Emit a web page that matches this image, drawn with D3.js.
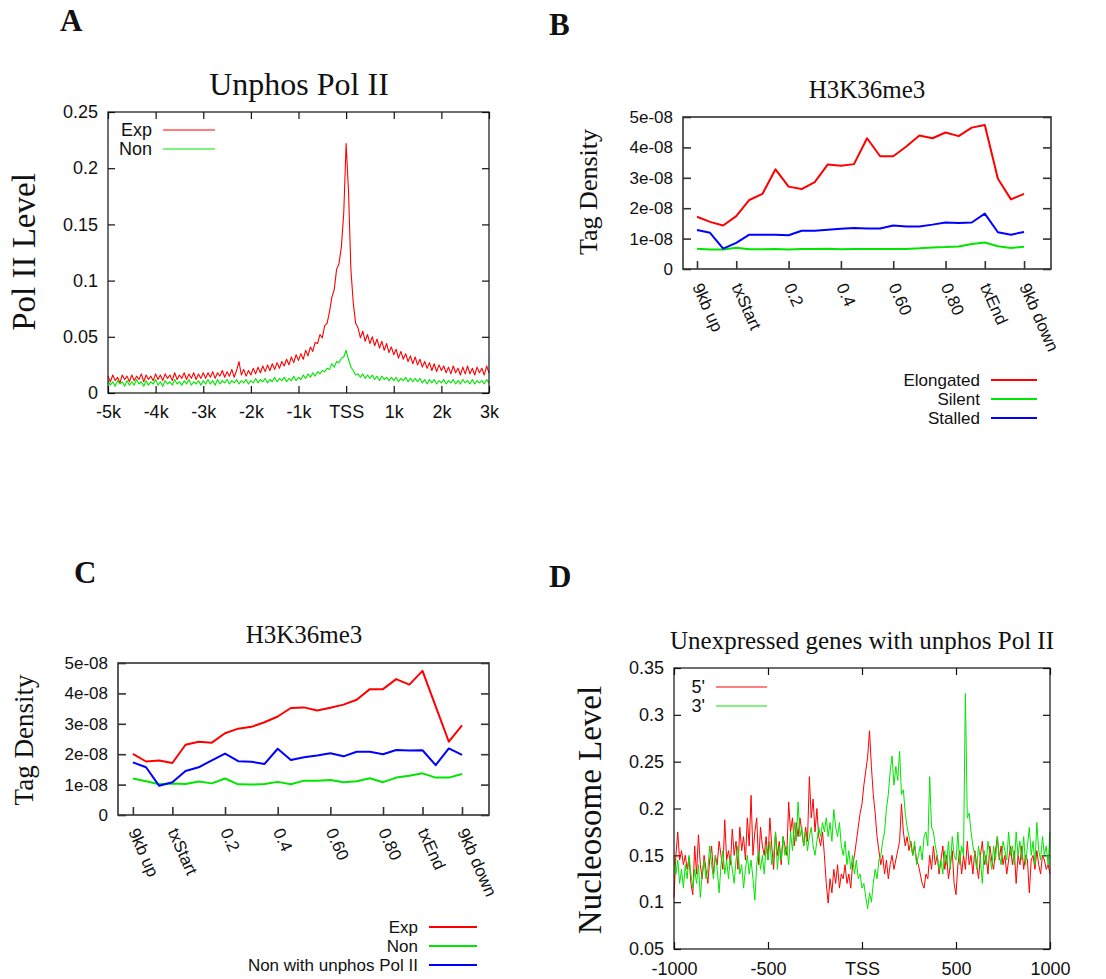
<!DOCTYPE html>
<html>
<head>
<meta charset="utf-8">
<script src="https://cdn.jsdelivr.net/npm/d3@7"></script>
<style>
  body { margin: 0; background: #fff; }
</style>
</head>
<body>
<div id="fig"></div>
<script>
// ---------- data ----------
// A: unphos Pol II level, 50bp bins from -5k to 3k
const binsA = d3.range(-5000, 3001, 50);
const expA = [
  0.015,0.010,0.016,0.011,0.014,0.009,0.016,0.012,0.015,0.010,
  0.016,0.011,0.015,0.012,0.017,0.010,0.016,0.012,0.015,0.011,
  0.017,0.012,0.016,0.011,0.017,0.013,0.016,0.011,0.018,0.012,
  0.016,0.013,0.018,0.012,0.017,0.013,0.018,0.012,0.017,0.013,
  0.018,
  0.013,0.018,0.014,0.019,0.013,0.018,0.015,0.020,0.014,0.019,
  0.015,0.021,0.014,0.020,0.028,0.016,0.021,0.015,0.020,0.016,
  0.022,0.017,0.023,0.018,0.024,0.019,0.025,0.020,0.026,0.021,
  0.027,0.022,0.028,0.024,0.030,0.025,0.032,0.027,0.034,0.029,
  0.035,0.030,0.038,0.033,0.041,0.037,0.045,0.044,
  0.052,0.049,0.060,0.062,
  0.072,0.085,0.092,0.110,
  0.115,0.130,0.160,
  0.222,
  0.180,0.110,0.080,0.062,
  0.058,0.049,0.055,0.046,0.052,0.044,
  0.050,0.042,0.048,0.040,0.046,0.038,0.044,0.036,0.041,0.034,
  0.039,0.031,0.037,0.030,0.035,0.028,0.033,0.026,0.032,0.025,
  0.030,0.023,0.028,0.022,0.027,0.020,0.026,0.019,0.025,0.020,
  0.024,0.018,0.023,0.017,0.024,0.018,0.022,0.016,0.023,0.017,
  0.024,0.017,0.022,0.016,0.023,0.018,0.022,0.016,0.024,0.018
];
const nonA = [
  0.011,0.007,0.010,0.006,0.011,0.008,0.010,0.006,0.011,0.007,
  0.010,0.007,0.012,0.008,0.010,0.006,0.011,0.007,0.010,0.008,
  0.012,0.007,0.010,0.006,0.011,0.008,0.010,0.007,0.012,0.008,
  0.010,0.007,0.011,0.008,0.012,0.007,0.010,0.008,0.011,0.007,
  0.011,
  0.008,0.012,0.008,0.011,0.007,0.012,0.008,0.011,0.009,0.012,
  0.008,0.011,0.009,0.012,0.008,0.011,0.009,0.012,0.008,0.011,
  0.009,0.013,0.009,0.012,0.010,0.013,0.009,0.012,0.010,0.014,
  0.010,0.013,0.011,0.014,0.010,0.013,0.011,0.015,0.011,0.014,
  0.012,0.016,0.013,0.017,0.014,0.018,0.015,0.019,0.017,0.020,0.019,0.022,
  0.021,0.026,0.023,0.028,0.027,0.031,0.032,
  0.038,
  0.030,0.023,0.020,0.016,0.017,0.014,0.017,0.013,0.016,0.013,
  0.016,0.012,0.015,0.011,0.015,0.012,0.014,0.011,0.014,0.011,
  0.014,0.010,0.013,0.011,0.014,0.010,0.013,0.010,0.013,0.010,
  0.013,0.009,0.012,0.008,0.012,0.009,0.012,0.008,0.011,0.009,
  0.012,0.008,0.011,0.009,0.012,0.008,0.011,0.008,0.012,0.009,
  0.011,0.008,0.012,0.008,0.011,0.009,0.011,0.008,0.012,0.009
];
const ticksA = [-5000, -4000, -3000, -2000, -1000, 0, 1000, 2000, 3000];
const tickLabelsA = ["-5k", "-4k", "-3k", "-2k", "-1k", "TSS", "1k", "2k", "3k"];
const yTicksA = [0, 0.05, 0.1, 0.15, 0.2, 0.25];
const yLabelsA = ["0", "0.05", "0.1", "0.15", "0.2", "0.25"];

// B and C: H3K36me3 tag density (units of 1e-08) over 26 metagene bins
const binsMeta = d3.range(26);
const ticksMeta = [0, 3, 7, 11, 15, 19, 22, 25];
const tickLabelsMeta = ["9kb up", "txStart", "0.2", "0.4", "0.60", "0.80", "txEnd", "9kb down"];
const yTicksMeta = [0, 1, 2, 3, 4, 5];
const yLabelsMeta = ["0", "1e-08", "2e-08", "3e-08", "4e-08", "5e-08"];

const elongatedB = [1.72,1.55,1.43,1.74,2.27,2.47,3.28,2.71,2.63,2.86,3.44,3.40,3.45,4.30,3.71,3.71,4.03,4.39,4.30,4.49,4.37,4.65,4.74,2.97,2.29,2.47];
const silentB    = [0.67,0.64,0.64,0.70,0.65,0.65,0.66,0.64,0.66,0.66,0.67,0.65,0.66,0.66,0.66,0.66,0.66,0.68,0.71,0.72,0.74,0.82,0.87,0.75,0.69,0.73];
const stalledB   = [1.28,1.19,0.67,0.86,1.13,1.13,1.13,1.11,1.26,1.26,1.29,1.32,1.35,1.33,1.33,1.43,1.40,1.40,1.46,1.53,1.51,1.53,1.82,1.21,1.13,1.22];

const expC    = [2.01,1.76,1.79,1.71,2.31,2.41,2.38,2.69,2.84,2.90,3.05,3.24,3.52,3.54,3.44,3.53,3.63,3.79,4.14,4.14,4.47,4.29,4.74,3.57,2.41,2.95];
const nonC    = [1.20,1.11,1.01,1.04,1.02,1.10,1.04,1.20,1.01,1.00,1.02,1.09,1.01,1.13,1.13,1.15,1.08,1.11,1.21,1.08,1.23,1.29,1.37,1.23,1.23,1.35];
const unphosC = [1.73,1.57,0.96,1.08,1.45,1.57,1.80,2.02,1.77,1.75,1.68,2.18,1.81,1.90,1.96,2.03,1.93,2.08,2.08,2.00,2.14,2.12,2.13,1.64,2.19,1.98];

// D: nucleosome level around TSS, 10bp bins
const binsD = d3.range(-1000, 1001, 10);
const fiveD = [
  0.105,0.150,0.175,0.145,0.155,0.140,0.150,0.135,0.148,0.120,
  0.108,0.160,0.130,0.172,0.140,0.125,0.150,0.135,0.120,0.145,
  0.160,0.130,0.150,0.140,0.165,0.150,0.135,0.188,0.145,0.155,
  0.140,0.178,0.150,0.165,0.135,0.180,0.155,0.170,0.145,0.190,
  0.160,0.214,0.150,0.175,0.190,0.140,0.180,0.160,0.150,0.170,
  0.145,0.190,0.160,0.135,0.175,0.150,0.165,0.140,0.170,0.160,
  0.150,0.207,0.175,0.190,0.160,0.185,0.170,0.190,0.175,0.160,
  0.180,0.165,0.234,0.190,0.210,0.175,0.200,0.170,0.160,0.175,
  0.150,0.120,0.099,0.125,0.110,0.135,0.120,0.140,0.115,0.130,
  0.125,0.140,0.120,0.130,0.115,0.140,0.150,0.165,0.180,0.195,
  0.205,0.225,0.240,0.255,0.283,0.245,0.215,0.195,0.170,0.155,
  0.140,0.150,0.130,0.145,0.125,0.140,0.150,0.135,0.145,0.155,
  0.165,0.205,0.175,0.160,0.170,0.155,0.165,0.150,0.160,0.145,
  0.140,0.130,0.120,0.115,0.130,0.125,0.150,0.135,0.160,0.140,
  0.150,0.130,0.145,0.160,0.135,0.150,0.125,0.140,0.155,0.120,
  0.108,0.140,0.155,0.130,0.150,0.135,0.165,0.140,0.150,0.130,
  0.155,0.140,0.125,0.150,0.165,0.140,0.150,0.130,0.160,0.145,
  0.135,0.155,0.170,0.145,0.160,0.140,0.150,0.130,0.145,0.160,
  0.140,0.155,0.120,0.150,0.140,0.160,0.135,0.150,0.145,0.110,
  0.145,0.150,0.135,0.155,0.140,0.130,0.150,0.145,0.135,0.140,
  0.130
];
const threeD = [
  0.150,0.130,0.145,0.120,0.135,0.115,0.140,0.125,0.150,0.130,
  0.115,0.135,0.120,0.140,0.105,0.130,0.145,0.125,0.135,0.160,
  0.140,0.125,0.150,0.135,0.110,0.140,0.155,0.130,0.145,0.125,
  0.150,0.135,0.120,0.145,0.160,0.130,0.140,0.115,0.135,0.150,
  0.130,0.145,0.125,0.102,0.140,0.155,0.135,0.150,0.130,0.160,
  0.145,0.165,0.140,0.150,0.175,0.135,0.160,0.145,0.170,0.150,
  0.160,0.140,0.175,0.155,0.185,0.165,0.207,0.170,0.180,0.160,
  0.175,0.155,0.170,0.180,0.160,0.150,0.165,0.180,0.170,0.185,
  0.175,0.190,0.170,0.185,0.165,0.199,0.180,0.170,0.185,0.160,
  0.150,0.165,0.140,0.155,0.135,0.150,0.130,0.145,0.125,0.130,
  0.115,0.120,0.105,0.093,0.110,0.100,0.120,0.135,0.125,0.145,
  0.150,0.165,0.175,0.200,0.215,0.240,0.256,0.225,0.245,0.230,
  0.261,0.215,0.220,0.195,0.180,0.170,0.160,0.150,0.165,0.140,
  0.150,0.160,0.145,0.170,0.175,0.160,0.234,0.180,0.175,0.160,
  0.150,0.135,0.145,0.130,0.155,0.140,0.165,0.135,0.170,0.150,
  0.145,0.175,0.140,0.160,0.150,0.323,0.190,0.195,0.175,0.160,
  0.150,0.135,0.160,0.145,0.120,0.155,0.140,0.165,0.150,0.135,
  0.160,0.145,0.170,0.150,0.140,0.165,0.155,0.145,0.175,0.150,
  0.160,0.140,0.175,0.150,0.165,0.145,0.170,0.140,0.160,0.180,
  0.150,0.165,0.140,0.185,0.155,0.145,0.170,0.150,0.160,0.140,
  0.175
];
const ticksD = [-1000, -500, 0, 500, 1000];
const tickLabelsD = ["-1000", "-500", "TSS", "500", "1000"];
const yTicksD = [0.05, 0.1, 0.15, 0.2, 0.25, 0.3, 0.35];
const yLabelsD = ["0.05", "0.1", "0.15", "0.2", "0.25", "0.3", "0.35"];

// ---------- drawing ----------
const width = 1106, height = 979;
const serif = "'Liberation Serif', 'Times New Roman', serif";
const sans = "'Liberation Sans', Arial, Helvetica, sans-serif";
const RED = "#ff0000", GREEN = "#00e600", BLUE = "#0000ff";

const svg = d3.select("#fig")
  .append("svg")
  .attr("width", width)
  .attr("height", height)
  .attr("viewBox", [0, 0, width, height])
  .style("background", "#fff");

function panel(p) {
  const x = d3.scaleLinear().domain(p.xDomain).range([p.box.l, p.box.r]);
  const y = d3.scaleLinear().domain(p.yDomain).range([p.box.b, p.box.t]);
  const g = svg.append("g");

  // bottom axis (ticks pointing inward)
  const bottom = g.append("g")
    .attr("transform", `translate(0,${p.box.b})`)
    .call(d3.axisBottom(x).tickValues(p.xTicks)
      .tickFormat((d, i) => p.xLabels[i])
      .tickSize(-p.tick).tickPadding(p.xPad));
  if (p.rotate) {
    bottom.selectAll(".tick text")
      .attr("y", null).attr("dy", "0.35em")
      .attr("text-anchor", "start")
      .attr("transform", `translate(0,${p.xPad}) rotate(${p.rotate})`);
  }

  if (p.topTicks) {
    g.append("g")
      .attr("transform", `translate(0,${p.box.t})`)
      .call(d3.axisTop(x).tickValues(p.xTicks).tickFormat("").tickSize(-p.tick));
  }

  g.append("g")
    .attr("transform", `translate(${p.box.l},0)`)
    .call(d3.axisLeft(y).tickValues(p.yTicks)
      .tickFormat((d, i) => p.yLabels[i])
      .tickSize(-p.tick).tickPadding(10));

  g.append("g")
    .attr("transform", `translate(${p.box.r},0)`)
    .call(d3.axisRight(y).tickValues(p.yTicks).tickFormat("").tickSize(-p.tick));

  g.selectAll(".domain").remove();
  g.selectAll(".tick line").attr("stroke", p.frameColor).attr("stroke-width", p.frameWidth);
  g.selectAll(".tick text")
    .attr("font-family", sans)
    .attr("font-size", p.fontSize)
    .attr("fill", "#111");

  // series
  const line = d3.line().x((d, i) => x(p.bins[i])).y(d => y(d));
  p.series.forEach(s => {
    g.append("path")
      .datum(s.values)
      .attr("fill", "none")
      .attr("stroke", s.color)
      .attr("stroke-width", p.lineWidth)
      .attr("stroke-linejoin", "round")
      .attr("d", line);
  });

  // frame
  g.append("rect")
    .attr("x", p.box.l).attr("y", p.box.t)
    .attr("width", p.box.r - p.box.l).attr("height", p.box.b - p.box.t)
    .attr("fill", "none")
    .attr("stroke", p.frameColor)
    .attr("stroke-width", p.frameWidth);

  // legend
  p.series.forEach((s, i) => {
    const ly = p.legend.y + i * p.legend.dy;
    g.append("text")
      .attr("x", p.legend.x).attr("y", ly).attr("dy", "0.35em")
      .attr("text-anchor", "end")
      .attr("font-family", sans).attr("font-size", p.fontSize)
      .attr("fill", "#111")
      .text(s.name);
    g.append("line")
      .attr("x1", p.legend.x + 11).attr("x2", p.legend.x + 11 + p.legend.len)
      .attr("y1", ly).attr("y2", ly)
      .attr("stroke", s.color).attr("stroke-width", p.lineWidth);
  });

  // title
  g.append("text")
    .attr("x", p.title.x).attr("y", p.title.y)
    .attr("text-anchor", "middle")
    .attr("font-family", serif).attr("font-size", p.title.size)
    .attr("fill", "#111")
    .text(p.title.text);

  // y label
  g.append("text")
    .attr("transform", `translate(${p.ylab.x},${p.ylab.y}) rotate(-90)`)
    .attr("text-anchor", "middle")
    .attr("font-family", serif).attr("font-size", p.ylab.size)
    .attr("fill", "#111")
    .text(p.ylab.text);

  // panel letter
  g.append("text")
    .attr("x", p.letter.x).attr("y", p.letter.y)
    .attr("font-family", serif).attr("font-size", 31).attr("font-weight", "bold")
    .attr("fill", "#111")
    .text(p.letter.text);
}

// A
panel({
  box: { l: 108, r: 489, t: 112, b: 393 },
  xDomain: [-5000, 3000], yDomain: [0, 0.25],
  xTicks: ticksA, xLabels: tickLabelsA, yTicks: yTicksA, yLabels: yLabelsA,
  bins: binsA,
  series: [
    { name: "Exp", values: expA, color: RED },
    { name: "Non", values: nonA, color: GREEN }
  ],
  tick: 7, xPad: 12, topTicks: true, fontSize: 18,
  lineWidth: 1.1, frameWidth: 1.2, frameColor: "#111",
  legend: { x: 152, y: 130, dy: 19, len: 52 },
  title: { text: "Unphos Pol II", x: 299, y: 95, size: 32 },
  ylab: { text: "Pol II Level", x: 35, y: 252, size: 33 },
  letter: { text: "A", x: 60, y: 31 }
});

// B
panel({
  box: { l: 683, r: 1051, t: 117, b: 269 },
  xDomain: [-1.07, 27.06], yDomain: [0, 5],
  xTicks: ticksMeta, xLabels: tickLabelsMeta, yTicks: yTicksMeta, yLabels: yLabelsMeta,
  bins: binsMeta,
  series: [
    { name: "Elongated", values: elongatedB, color: RED },
    { name: "Silent", values: silentB, color: GREEN },
    { name: "Stalled", values: stalledB, color: BLUE }
  ],
  tick: 8, xPad: 15, rotate: 66, topTicks: false, fontSize: 17,
  lineWidth: 2, frameWidth: 1.6, frameColor: "#333",
  legend: { x: 980, y: 380, dy: 19, len: 46 },
  title: { text: "H3K36me3", x: 867, y: 98, size: 25 },
  ylab: { text: "Tag Density", x: 597, y: 192, size: 26 },
  letter: { text: "B", x: 549, y: 35 }
});

// C
panel({
  box: { l: 118, r: 489, t: 663, b: 815 },
  xDomain: [-1.13, 27.05], yDomain: [0, 5],
  xTicks: ticksMeta, xLabels: tickLabelsMeta, yTicks: yTicksMeta, yLabels: yLabelsMeta,
  bins: binsMeta,
  series: [
    { name: "Exp", values: expC, color: RED },
    { name: "Non", values: nonC, color: GREEN },
    { name: "Non with unphos Pol II", values: unphosC, color: BLUE }
  ],
  tick: 8, xPad: 14, rotate: 66, topTicks: false, fontSize: 17,
  lineWidth: 2, frameWidth: 1.6, frameColor: "#333",
  legend: { x: 418, y: 927, dy: 19, len: 48 },
  title: { text: "H3K36me3", x: 304, y: 643, size: 25 },
  ylab: { text: "Tag Density", x: 33, y: 740, size: 27 },
  letter: { text: "C", x: 74, y: 583 }
});

// D
panel({
  box: { l: 674, r: 1050, t: 668, b: 949 },
  xDomain: [-1000, 1000], yDomain: [0.05, 0.35],
  xTicks: ticksD, xLabels: tickLabelsD, yTicks: yTicksD, yLabels: yLabelsD,
  bins: binsD,
  series: [
    { name: "5'", values: fiveD, color: RED },
    { name: "3'", values: threeD, color: GREEN }
  ],
  tick: 7, xPad: 13, topTicks: true, fontSize: 18,
  lineWidth: 1, frameWidth: 1.2, frameColor: "#111",
  legend: { x: 705, y: 687, dy: 19, len: 51 },
  title: { text: "Unexpressed genes with unphos Pol II", x: 862, y: 649, size: 25 },
  ylab: { text: "Nucleosome Level", x: 601, y: 810, size: 33 },
  letter: { text: "D", x: 549, y: 587 }
});
</script>
</body>
</html>
